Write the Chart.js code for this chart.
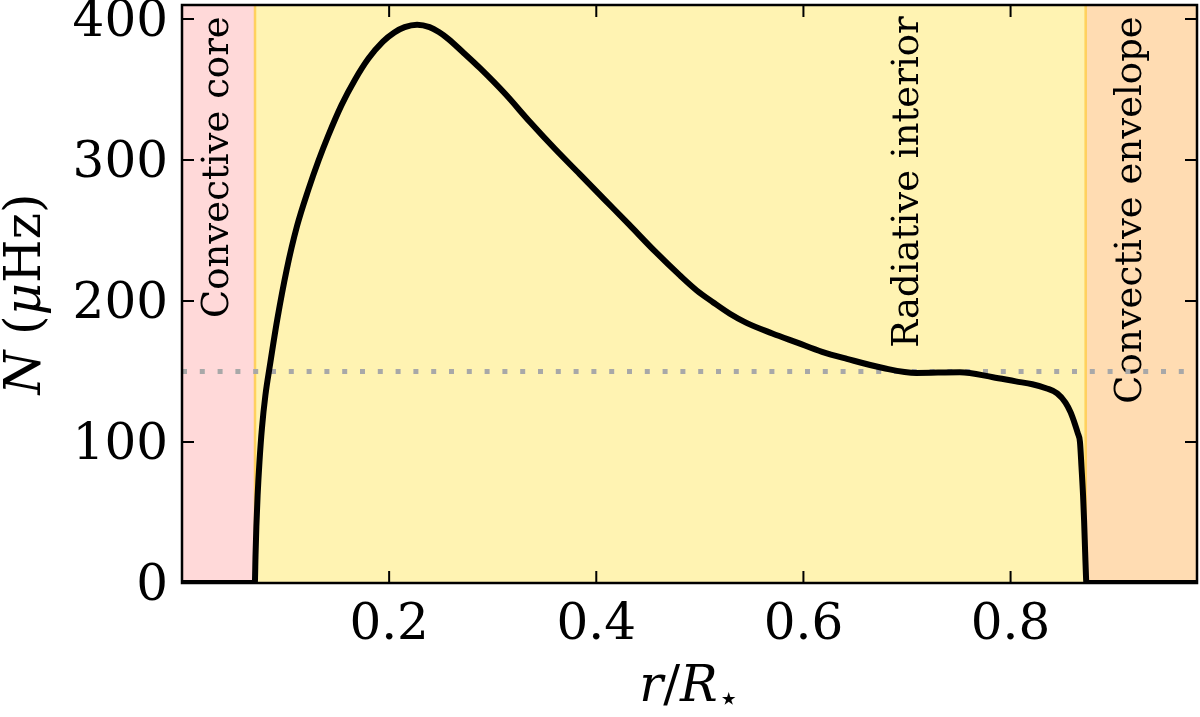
<!DOCTYPE html>
<html><head><meta charset="utf-8">
<script src="https://cdn.jsdelivr.net/npm/chart.js@4.4.1/dist/chart.umd.min.js"></script>
<style>html,body{margin:0;padding:0;background:#fff}canvas{display:block}</style>
</head><body>
<canvas id="c" width="1200" height="717"></canvas>
<script>
// ---- data ----
const rValues = [0.000, 0.0703, 0.0710, 0.0718, 0.0730, 0.0748, 0.0772, 0.0805, 0.0850, 0.0920,
  0.1010, 0.1110, 0.1220, 0.1320, 0.1410, 0.1540, 0.1670, 0.1800, 0.1940, 0.2050,
  0.2150, 0.2270, 0.2390, 0.2480, 0.2570, 0.2720, 0.2880, 0.3120, 0.3360, 0.3600,
  0.3840, 0.4080, 0.4320, 0.4570, 0.4810, 0.4970, 0.5130, 0.5290, 0.5450, 0.5700,
  0.5940, 0.6180, 0.6420, 0.6770, 0.7090, 0.7510, 0.7830, 0.8050, 0.8210, 0.8350,
  0.8450, 0.8530, 0.8580, 0.8620, 0.8650, 0.8670, 0.8685, 0.8700, 0.8710, 0.8720,
  0.8728, 0.8732, 0.9800];
const nValues = [0, 0, 20, 40, 62, 86, 110, 133, 155, 187,
  222, 253, 279, 300, 317, 339, 357, 372, 384, 390.5,
  394.3, 396, 394.3, 390.8, 386, 376, 365, 347, 327, 308,
  290, 272, 254, 235, 218, 207.5, 199, 191, 184.5, 177,
  170.5, 164, 159, 152.5, 149, 149.5, 146, 143, 141, 138,
  134.5, 128, 121, 113, 106, 100, 82, 62, 44, 22,
  5, 0, 0];
const refLevel = 150;
const refRange = [0, 0.98];
const regionEdges = [0, 0.0705, 0.8725, 0.98];
const regionLabels = ['Convective core', 'Radiative interior', 'Convective envelope'];
const regionLabelX = [0.035, 0.701, 0.917];
const regionLabelTop = 402;
const xTickValues = [0.2, 0.4, 0.6, 0.8];
const yTickValues = [0, 100, 200, 300, 400];
const xRange = [0, 0.98];
const yRange = [0, 410];
const yTitle = [{text: 'N', italic: true}, {text: ' (', italic: false}, {text: 'μ', italic: true}, {text: 'Hz)', italic: false}];
const xTitle = [{text: 'r', italic: true}, {text: '/', italic: false}, {text: 'R', italic: true}, {text: '⋆', italic: false, sub: true}];

// ---- styles ----
const FAMILY = "'DejaVu Serif', 'DejaVu Sans', serif";
const regionColors = ['#ffd9d9', '#fff3b2', '#ffdcb2'];
const edgeColor = 'rgba(255, 200, 60, 0.75)';

function segFont(s, size) {
  const sz = s.sub ? Math.round(size * 0.7) : size;
  return (s.italic ? 'italic ' : '') + sz + 'px ' + FAMILY;
}
function drawSegments(ctx, segs, size, baseline) {
  ctx.textBaseline = baseline;
  ctx.textAlign = 'left';
  let total = 0;
  const widths = segs.map(s => { ctx.font = segFont(s, size); const w = ctx.measureText(s.text).width; total += w; return w; });
  let x = -total / 2;
  segs.forEach((s, i) => {
    ctx.font = segFont(s, size);
    ctx.fillText(s.text, x, s.sub ? 9 : 0);
    x += widths[i];
  });
}

const decor = {
  id: 'decor',
  beforeDraw(chart) {
    const ctx = chart.ctx;
    ctx.save(); ctx.fillStyle = '#fff'; ctx.fillRect(0, 0, chart.width, chart.height); ctx.restore();
  },
  beforeDatasetsDraw(chart) {
    const {ctx, chartArea: {top, bottom}, scales: {x}} = chart;
    ctx.save();
    for (let i = 0; i < regionColors.length; i++) {
      const x0 = x.getPixelForValue(regionEdges[i]);
      const x1 = x.getPixelForValue(regionEdges[i + 1]);
      ctx.fillStyle = regionColors[i];
      ctx.fillRect(x0, top, x1 - x0, bottom - top);
    }
    ctx.strokeStyle = edgeColor;
    ctx.lineWidth = 2.5;
    [regionEdges[1], regionEdges[2]].forEach(v => {
      const px = x.getPixelForValue(v);
      ctx.beginPath(); ctx.moveTo(px, top); ctx.lineTo(px, bottom); ctx.stroke();
    });
    ctx.fillStyle = '#000';
    ctx.font = '37px ' + FAMILY;
    ctx.textAlign = 'right';
    ctx.textBaseline = 'middle';
    const yTop = chart.scales.y.getPixelForValue(regionLabelTop);
    regionLabels.forEach((t, i) => {
      ctx.save();
      ctx.translate(x.getPixelForValue(regionLabelX[i]), yTop);
      ctx.rotate(-Math.PI / 2);
      ctx.fillText(t, 0, 0);
      ctx.restore();
    });
    ctx.restore();
  },
  afterDatasetsDraw(chart) {
    const {ctx, chartArea: {left, right, top, bottom}, scales: {x, y}} = chart;
    ctx.save();
    ctx.strokeStyle = '#000';
    ctx.lineWidth = 2;
    const tl = 12;
    xTickValues.forEach(v => {
      const px = x.getPixelForValue(v);
      ctx.beginPath();
      ctx.moveTo(px, bottom); ctx.lineTo(px, bottom - tl);
      ctx.moveTo(px, top); ctx.lineTo(px, top + tl);
      ctx.stroke();
    });
    yTickValues.forEach(v => {
      const py = y.getPixelForValue(v);
      ctx.beginPath();
      ctx.moveTo(left, py); ctx.lineTo(left + tl, py);
      ctx.moveTo(right, py); ctx.lineTo(right - tl, py);
      ctx.stroke();
    });
    ctx.lineWidth = 2.5;
    ctx.strokeRect(left, top, right - left, bottom - top);
    ctx.restore();
  },
  afterDraw(chart) {
    const {ctx, chartArea: {left, right, top, bottom}} = chart;
    ctx.save();
    ctx.fillStyle = '#000';
    ctx.save();
    ctx.translate(27, (top + bottom) / 2);
    ctx.rotate(-Math.PI / 2);
    drawSegments(ctx, yTitle, 50, 'middle');
    ctx.restore();
    ctx.save();
    ctx.translate((left + right) / 2, 701);
    drawSegments(ctx, xTitle, 50, 'alphabetic');
    ctx.restore();
    ctx.restore();
  }
};

const tickFont = {family: FAMILY, size: 50};

new Chart(document.getElementById('c'), {
  type: 'line',
  data: {
    datasets: [
      {
        label: 'N',
        data: rValues.map((r, i) => ({x: r, y: nValues[i]})),
        borderColor: '#000', borderWidth: 6, pointRadius: 0,
        cubicInterpolationMode: 'monotone', fill: false, order: 0
      },
      {
        label: 'reference',
        data: refRange.map(r => ({x: r, y: refLevel})),
        borderColor: '#a8a8a8', borderWidth: 5, borderDash: [5, 12.8],
        borderCapStyle: 'butt', pointRadius: 0, fill: false, order: 1
      }
    ]
  },
  options: {
    responsive: false,
    animation: false,
    layout: {padding: {top: 5, right: 3, left: 0, bottom: 0}},
    plugins: {legend: {display: false}, tooltip: {enabled: false}},
    scales: {
      x: {
        type: 'linear', min: xRange[0], max: xRange[1],
        grid: {display: false, drawTicks: false}, border: {display: false},
        ticks: {font: tickFont, color: '#000', padding: 13, maxRotation: 0, callback: v => Number(v).toFixed(1)},
        afterBuildTicks: s => { s.ticks = xTickValues.map(v => ({value: v})); },
        afterFit: s => { s.height = 134; s.paddingLeft = 0; s.paddingRight = 0; }
      },
      y: {
        type: 'linear', min: yRange[0], max: yRange[1],
        grid: {display: false, drawTicks: false}, border: {display: false},
        ticks: {font: tickFont, color: '#000', padding: 14, labelOffset: 4, callback: v => String(v)},
        afterBuildTicks: s => { s.ticks = yTickValues.map(v => ({value: v})); },
        afterFit: s => { s.width = 182; s.paddingTop = 0; s.paddingBottom = 0; }
      }
    }
  },
  plugins: [decor]
});
</script></body></html>
